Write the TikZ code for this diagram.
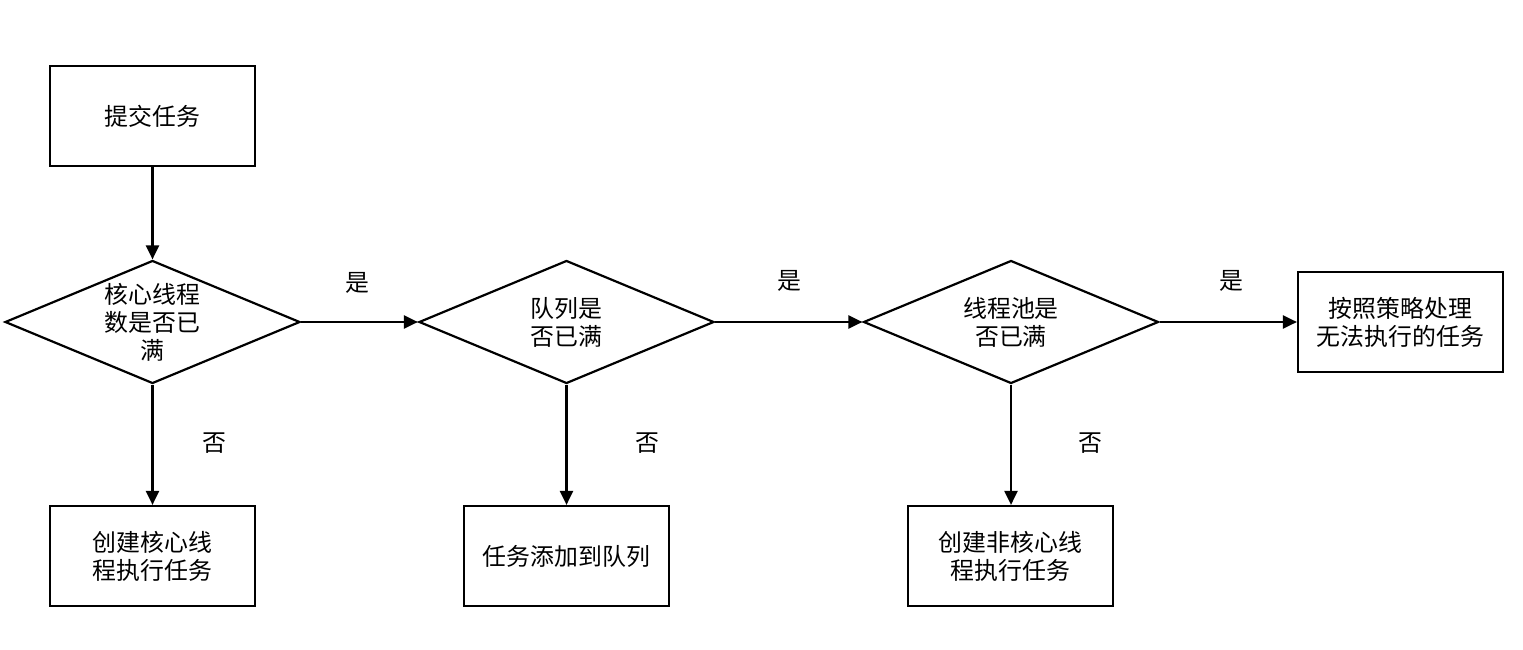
\documentclass[tikz,border=0pt]{standalone}
\usepackage{fontspec}
\setmainfont{Noto Sans CJK SC}
\usetikzlibrary{shapes.geometric, arrows.meta}
\tikzset{
  stepbox/.style={draw, line width=1.25pt, minimum width=4.1cm, minimum height=2cm,
    align=center, font=\fontsize{13.6}{16}\selectfont},
  decide/.style={draw, diamond, line width=1.25pt, minimum width=5.9cm, minimum height=2.46cm,
    inner sep=0pt},
  inside/.style={align=center, font=\fontsize{13.6}{16}\selectfont},
  answer/.style={font=\fontsize{13.6}{16}\selectfont},
  flow/.style={line width=1.25pt, -{Triangle[length=0.28cm, width=0.26cm]}}
}
\begin{document}
\begin{tikzpicture}
\useasboundingbox (0,0) rectangle (30.46,12.98);
% top box and the three questions
\node[stepbox] (submit) at (3.05,10.66) {提交任务};
\node[decide] (core) at (3.05,6.54) {};
\node[inside] (coretext) at (core) {核心线程\\数是否已\\满};
\node[decide] (queue) at (11.33,6.54) {};
\node[inside] (queuetext) at (queue) {队列是\\否已满};
\node[decide] (pool) at (20.22,6.54) {};
\node[inside] (pooltext) at (pool) {线程池是\\否已满};
\node[stepbox] (reject) at (28.01,6.54) {按照策略处理\\无法执行的任务};
% results below
\node[stepbox] (newcore) at (3.05,1.86) {创建核心线\\程执行任务};
\node[stepbox] (addqueue) at (11.33,1.86) {任务添加到队列};
\node[stepbox] (newother) at (20.21,1.86) {创建非核心线\\程执行任务};
% answers
\node[answer] (yes1) at (7.14,7.32) {是};
\node[answer] (yes2) at (15.78,7.36) {是};
\node[answer] (yes3) at (24.62,7.36) {是};
\node[answer] (no1) at (4.28,4.12) {否};
\node[answer] (no2) at (12.94,4.12) {否};
\node[answer] (no3) at (21.80,4.12) {否};
% connectors
\draw[flow] (submit) -- (core);
\draw[flow] (core) -- (queue);
\draw[flow] (queue) -- (pool);
\draw[flow] (pool) -- (reject);
\draw[flow] (core) -- (newcore);
\draw[flow] (queue) -- (addqueue);
\draw[flow] (pool.south) -- (pool.south |- newother.north);
\end{tikzpicture}
\end{document}
